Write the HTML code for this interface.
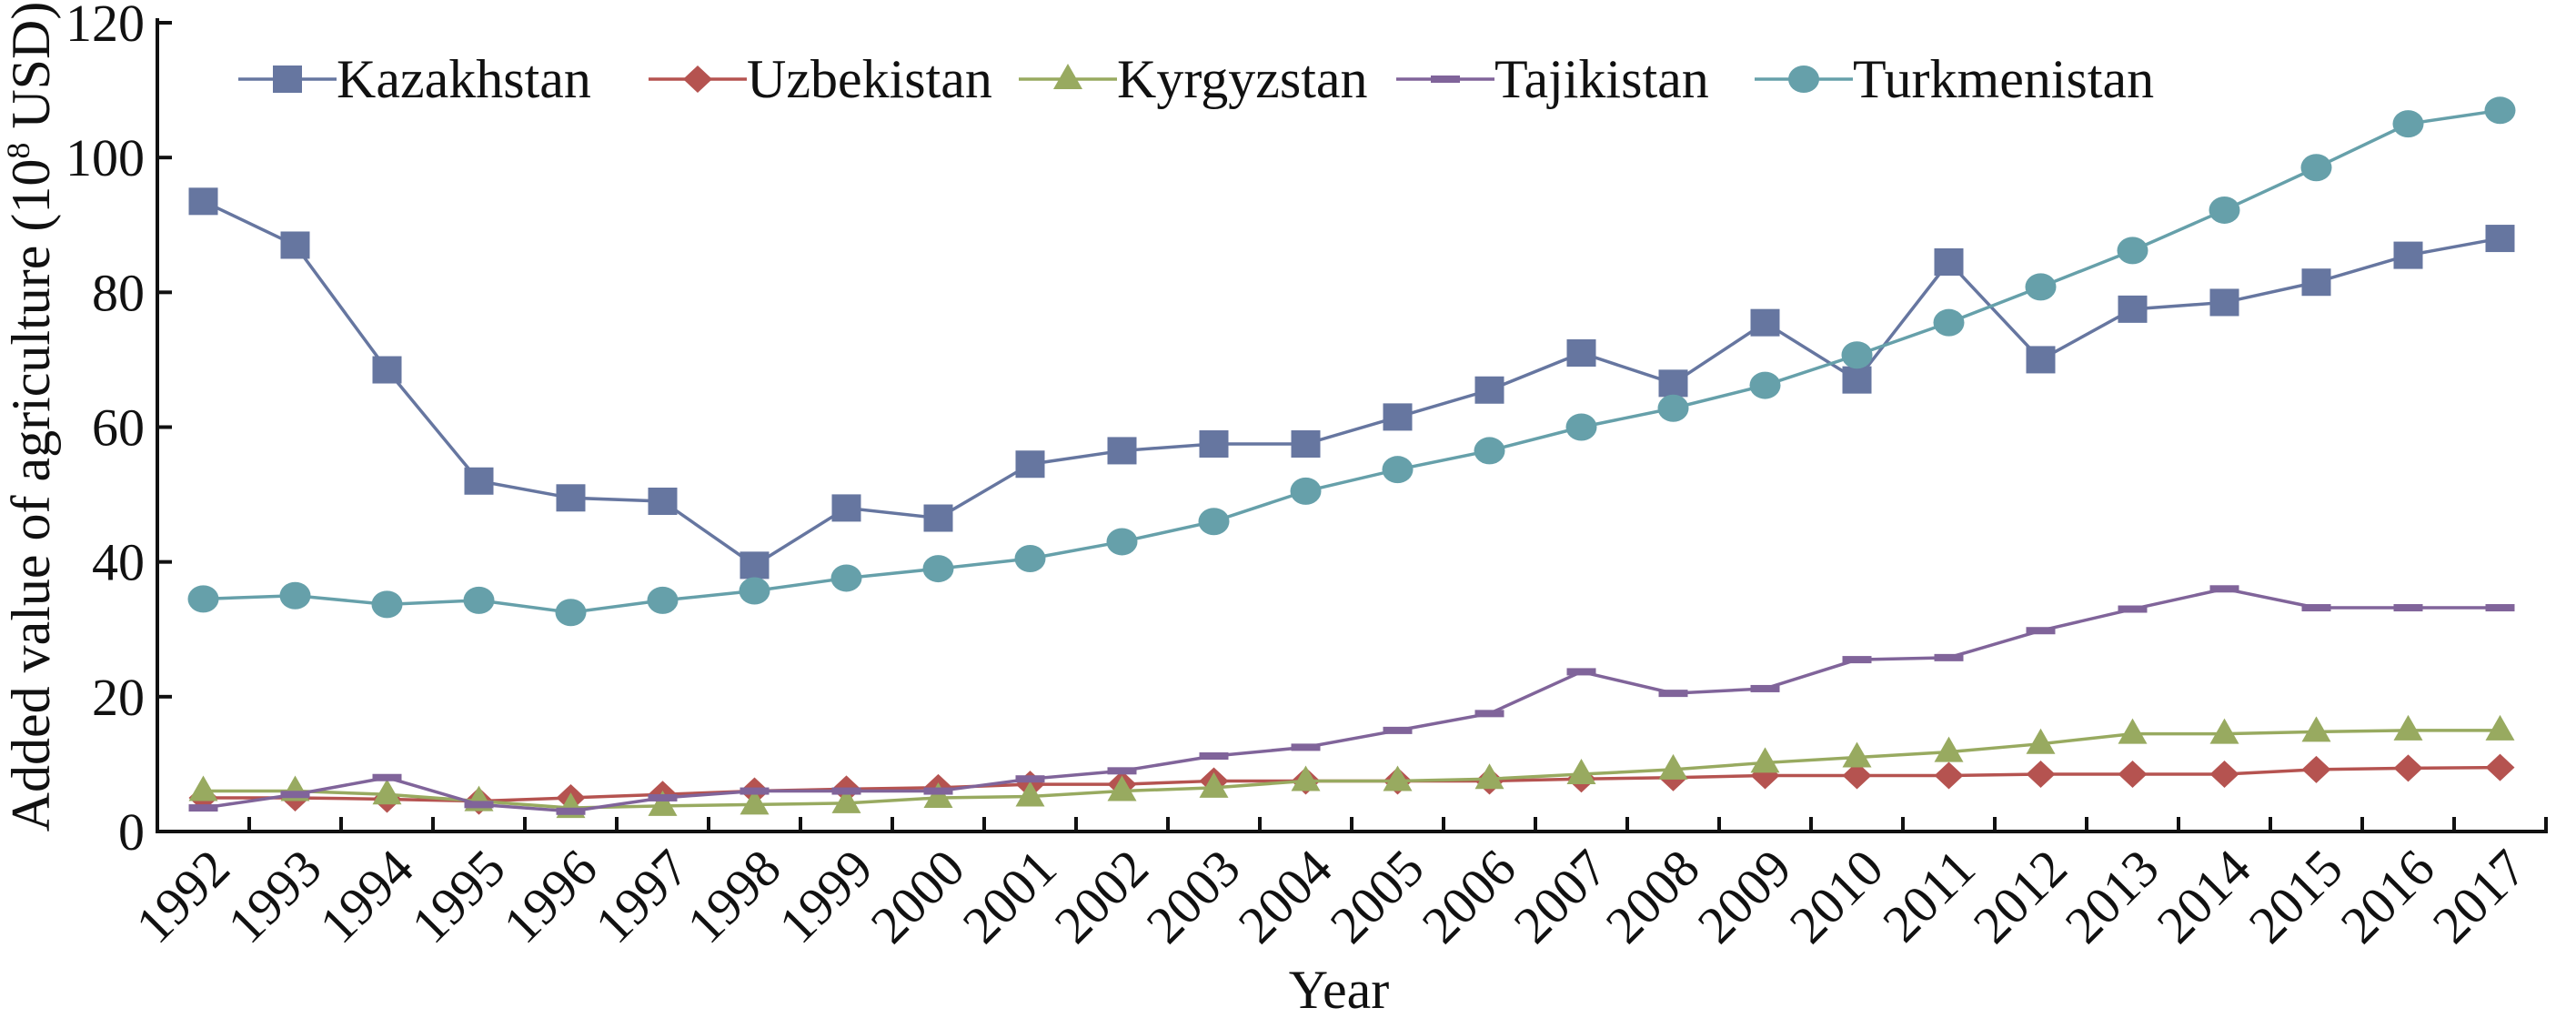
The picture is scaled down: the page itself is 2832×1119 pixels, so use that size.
<!DOCTYPE html>
<html><head><meta charset="utf-8"><style>
html,body{margin:0;padding:0;background:#fff}
svg text{font-family:"Liberation Serif",serif;fill:#111}
</style></head><body>
<svg id="chart" width="2832" height="1114" viewBox="0 0 2832 1114" xmlns="http://www.w3.org/2000/svg"></svg>
<script>
const years = ["1992","1993","1994","1995","1996","1997","1998","1999","2000","2001","2002","2003","2004","2005","2006","2007","2008","2009","2010","2011","2012","2013","2014","2015","2016","2017"];
const kazakhstan = [93.5,87,68.5,52,49.5,49,39.5,48,46.5,54.5,56.5,57.5,57.5,61.5,65.5,71,66.5,75.5,67,84.5,70,77.5,78.5,81.5,85.5,88];
const uzbekistan = [5,5,4.8,4.5,5,5.5,6,6.3,6.5,7,7,7.5,7.5,7.5,7.5,7.8,8,8.3,8.3,8.3,8.5,8.5,8.5,9.2,9.4,9.5];
const kyrgyzstan = [6,6,5.5,4.5,3.5,3.8,4,4.2,5,5.2,6,6.5,7.5,7.5,7.8,8.5,9.2,10.2,11,11.8,13,14.5,14.5,14.8,15,15];
const tajikistan = [3.5,5.5,8,4,3,5,6,6,6,7.8,9,11.2,12.5,15,17.5,23.7,20.5,21.2,25.5,25.8,29.8,33,36,33.2,33.2,33.2];
const turkmenistan = [34.5,35,33.7,34.3,32.5,34.3,35.7,37.6,39,40.5,43,46,50.5,53.7,56.5,60,62.8,66.2,70.7,75.5,80.8,86.2,92.2,98.5,105,107];
const yTicks = [0,20,40,60,80,100,120];
const seriesNames = ["Kazakhstan","Uzbekistan","Kyrgyzstan","Tajikistan","Turkmenistan"];

const svg = document.getElementById('chart');
const NS = 'http://www.w3.org/2000/svg';
const X0 = 173, X1 = 2799, Y0 = 914, Y1 = 25, YMAX = 120;
const step = (X1 - X0) / years.length;
const xs = i => X0 + step * (i + 0.5);
const ys = v => Y0 - (v / YMAX) * (Y0 - Y1);
function mk(tag, attrs, parent) {
  const e = document.createElementNS(NS, tag);
  for (const k in attrs) e.setAttribute(k, attrs[k]);
  (parent || svg).appendChild(e);
  return e;
}
const styles = [
  {color:'#6676a0', shape:'square'},
  {color:'#b55350', shape:'diamond'},
  {color:'#98aa60', shape:'triangle'},
  {color:'#80649a', shape:'dash'},
  {color:'#66a0aa', shape:'circle'}
];
const data = [kazakhstan, uzbekistan, kyrgyzstan, tajikistan, turkmenistan];
function marker(g, shape, color, x, y) {
  let m;
  if (shape === 'square') m = mk('rect', {x:x-16, y:y-15, width:32, height:30, fill:color}, g);
  else if (shape === 'diamond') m = mk('polygon', {points:`${x},${y-15} ${x+16},${y} ${x},${y+15} ${x-16},${y}`, fill:color}, g);
  else if (shape === 'triangle') m = mk('polygon', {points:`${x},${y-17} ${x+16},${y+11} ${x-16},${y+11}`, fill:color}, g);
  else if (shape === 'dash') m = mk('rect', {x:x-16, y:y-4, width:32, height:8, fill:color}, g);
  else m = mk('ellipse', {cx:x, cy:y, rx:17, ry:15, fill:color}, g);
  return m;
}
data.forEach((vals, s) => {
  const g = mk('g', {});
  
  
  const pl = mk('polyline', {points: vals.map((v,i)=>xs(i)+','+ys(v)).join(' '), fill:'none', stroke:styles[s].color, 'stroke-width':3.5}, g);
  
  
  vals.forEach((v,i) => {
    const m = marker(g, styles[s].shape, styles[s].color, xs(i), ys(v));
    
    
  });
});
const ax = mk('g', {});


mk('line', {x1:X0, y1:Y1-5, x2:X0, y2:Y0+2, stroke:'#111', 'stroke-width':4}, ax);
mk('line', {x1:X0-2, y1:Y0, x2:X1+2, y2:Y0, stroke:'#111', 'stroke-width':4}, ax);
yTicks.forEach(t => {
  mk('line', {x1:X0, y1:ys(t), x2:X0+16, y2:ys(t), stroke:'#111', 'stroke-width':4}, ax);
  const tx = mk('text', {x:X0-14, y:ys(t)+20, 'text-anchor':'end', 'font-size':58}, ax);
  tx.textContent = t;
  
  
});
for (let i = 1; i <= years.length; i++) {
  const x = X0 + step * i;
  mk('line', {x1:x, y1:Y0, x2:x, y2:Y0-16, stroke:'#111', 'stroke-width':4}, ax);
}
years.forEach((yr, i) => {
  const x = xs(i) + 32, y = Y0 + 44;
  const tx = mk('text', {x:x, y:y, 'text-anchor':'end', 'font-size':58, transform:`rotate(-45 ${x} ${y})`}, ax);
  tx.textContent = yr;
  
  
});
const xt = mk('text', {x:1472, y:1108, 'text-anchor':'middle', 'font-size':60});
xt.textContent = 'Year';


const yt = mk('text', {x:0, y:0, 'text-anchor':'middle', 'font-size':60, transform:'translate(54 458) rotate(-90)'});


yt.innerHTML = 'Added value of agriculture (10<tspan dy="-22" font-size="36">8</tspan><tspan dy="22"> USD)</tspan>';
const legX = [316, 767, 1174, 1589, 1983];
const legY = 87;
seriesNames.forEach((n, s) => {
  const g = mk('g', {});
  
  
  mk('line', {x1:legX[s]-54, y1:legY, x2:legX[s]+54, y2:legY, stroke:styles[s].color, 'stroke-width':3.5}, g);
  marker(g, styles[s].shape, styles[s].color, legX[s], legY);
  const t = mk('text', {x:legX[s]+54, y:legY+20, 'font-size':60}, g);
  t.textContent = n;
});
</script>
</body></html>
